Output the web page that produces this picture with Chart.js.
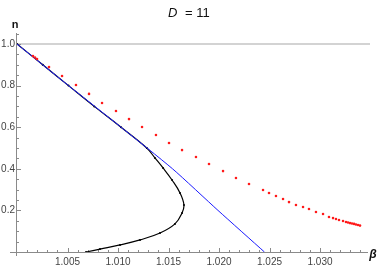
<!DOCTYPE html>
<html>
<head>
<meta charset="utf-8">
<script src="https://cdn.jsdelivr.net/npm/chart.js@4"></script>
<style>
  body { margin: 0; background: #fff; }
  #wrap { width: 383px; height: 268px; position: relative; }
</style>
</head>
<body>
<div id="wrap"><canvas id="chart"></canvas></div>
<script>
// tick labels
const xTicks = [1.005, 1.010, 1.015, 1.020, 1.025, 1.030];
const yTicks = [0.2, 0.4, 0.6, 0.8, 1.0];

// blue line
const blueBeta = [1.0, 1.0051, 1.0103, 1.0154, 1.0199, 1.0245];
const blueN = [1.0, 0.8, 0.6, 0.4, 0.2, 0.0];

// black curve (turns back at the nose)
const blackBeta = [1.0, 1.00255, 1.0051, 1.00765, 1.0103, 1.01285, 1.01366, 1.01446, 1.01535, 1.01614,
                   1.01653, 1.01634, 1.01564, 1.01416, 1.01218, 1.0102, 1.00822, 1.00683];
const blackN = [1.0, 0.9, 0.8, 0.7, 0.6, 0.5, 0.452, 0.404, 0.346, 0.284,
                0.226, 0.1875, 0.135, 0.091, 0.058, 0.034, 0.014, 0.0];

// red points
const redBeta = [1.00158, 1.00178, 1.00198, 1.00317, 1.00446, 1.00584, 1.00713, 1.00842, 1.0098, 1.01109,
                 1.01238, 1.01376, 1.01505, 1.01634, 1.01772, 1.01901, 1.0204, 1.02168, 1.02297, 1.02436,
                 1.02495, 1.02564, 1.02634, 1.02693, 1.02762, 1.02832, 1.02891, 1.0296, 1.0303, 1.03089,
                 1.03129, 1.03158, 1.03188, 1.03228, 1.03257, 1.03277, 1.03297, 1.03317, 1.03337, 1.03356,
                 1.03376, 1.03396];
const redN = [0.942, 0.935, 0.928, 0.889, 0.846, 0.803, 0.760, 0.716, 0.678, 0.639,
              0.601, 0.5625, 0.524, 0.490, 0.457, 0.423, 0.389, 0.356, 0.327, 0.298,
              0.284, 0.269, 0.255, 0.240, 0.226, 0.216, 0.207, 0.192, 0.183, 0.168,
              0.163, 0.159, 0.154, 0.149, 0.144, 0.142, 0.139, 0.137, 0.135, 0.132,
              0.130, 0.127];

const toPoints = (xs, ys) => xs.map((x, i) => ({ x: x, y: ys[i] }));

// axes drawn through the origin, with small inward ticks, like Mathematica
const axesPlugin = {
    id: 'axes',
    beforeDatasetsDraw(chart) {
        const ctx = chart.ctx;
        const xs = chart.scales.x, ys = chart.scales.y;
        const x0 = xs.getPixelForValue(1.0), y0 = ys.getPixelForValue(0);
        const area = chart.chartArea;
        ctx.save();
        // line at n = 1
        ctx.strokeStyle = '#c4c4c4';
        ctx.lineWidth = 1.6;
        ctx.beginPath();
        ctx.moveTo(x0, ys.getPixelForValue(1.0));
        ctx.lineTo(area.right + 2, ys.getPixelForValue(1.0));
        ctx.stroke();
        // axes
        ctx.strokeStyle = '#8a8a8a';
        ctx.lineWidth = 1;
        ctx.beginPath();
        ctx.moveTo(10, y0 + 0.5);
        ctx.lineTo(area.right, y0 + 0.5);
        ctx.moveTo(x0 - 0.5, area.top);
        ctx.lineTo(x0 - 0.5, y0 + 4);
        ctx.stroke();
        // x ticks
        ctx.beginPath();
        for (let i = 1; i <= 34; i++) {
            const px = Math.round(xs.getPixelForValue(1.0 + i * 0.001)) + 0.5;
            const len = (i % 5 === 0) ? 4 : 2;
            ctx.moveTo(px, y0);
            ctx.lineTo(px, y0 - len);
        }
        // y ticks
        for (let i = 1; i <= 21; i++) {
            const py = Math.round(ys.getPixelForValue(i * 0.05)) + 0.5;
            const len = (i % 4 === 0) ? 4 : 2;
            ctx.moveTo(x0, py);
            ctx.lineTo(x0 + len, py);
        }
        ctx.stroke();
        ctx.restore();
    },
    afterDraw(chart) {
        const ctx = chart.ctx;
        ctx.save();
        ctx.fillStyle = '#111';
        ctx.textBaseline = 'alphabetic';
        // title
        ctx.font = 'italic 13px "Liberation Sans", Arial, sans-serif';
        ctx.textAlign = 'left';
        ctx.fillText('D', 168, 17);
        ctx.font = '13px "Liberation Sans", Arial, sans-serif';
        ctx.fillText('= 11', 185, 17);
        // axis labels
        ctx.font = 'bold 11px "Liberation Sans", Arial, sans-serif';
        ctx.textAlign = 'center';
        ctx.fillText('n', 15, 28);
        ctx.font = 'bold italic 12px "Liberation Sans", Arial, sans-serif';
        ctx.fillText('β', 373, 258);
        ctx.restore();
    }
};

new Chart(document.getElementById('chart'), {
    type: 'scatter',
    data: {
        datasets: [
            {
                label: 'red',
                data: toPoints(redBeta, redN),
                showLine: false,
                pointRadius: 1.3,
                pointBorderWidth: 0,
                pointBackgroundColor: '#ff1a1a',
                order: 0
            },
            {
                label: 'blue',
                data: toPoints(blueBeta, blueN),
                showLine: true,
                borderColor: '#1a1aff',
                borderWidth: 1,
                pointRadius: 0,
                tension: 0.2,
                order: 1
            },
            {
                label: 'black',
                data: toPoints(blackBeta, blackN),
                showLine: true,
                borderColor: '#000',
                borderWidth: 1.2,
                pointRadius: 1,
                pointBorderWidth: 0,
                pointBackgroundColor: '#000',
                tension: 0.4,
                order: 2
            }
        ]
    },
    options: {
        responsive: true,
        maintainAspectRatio: false,
        animation: false,
        layout: { padding: { top: 33, right: 15, left: 0, bottom: 0 } },
        plugins: {
            legend: { display: false },
            tooltip: { enabled: false }
        },
        scales: {
            x: {
                type: 'linear',
                min: 1.0,
                max: 1.034752,
                grid: { display: false, drawTicks: false },
                border: { display: false },
                afterBuildTicks: (scale) => { scale.ticks = xTicks.map(v => ({ value: v })); },
                afterFit: (scale) => { scale.height = 16; },
                ticks: {
                    callback: (v) => Number(v).toFixed(3),
                    font: { family: '"Liberation Sans", Arial, sans-serif', size: 10 },
                    color: '#444',
                    padding: 4,
                    maxRotation: 0,
                    autoSkip: false
                }
            },
            y: {
                type: 'linear',
                min: 0,
                max: 1.0529,
                grid: { display: false, drawTicks: false },
                border: { display: false },
                afterBuildTicks: (scale) => { scale.ticks = yTicks.map(v => ({ value: v })); },
                afterFit: (scale) => { scale.width = 17; },
                ticks: {
                    callback: (v) => Number(v).toFixed(1),
                    font: { family: '"Liberation Sans", Arial, sans-serif', size: 10 },
                    color: '#444',
                    padding: 2,
                    autoSkip: false
                }
            }
        }
    },
    plugins: [axesPlugin]
});
</script>
</body>
</html>
